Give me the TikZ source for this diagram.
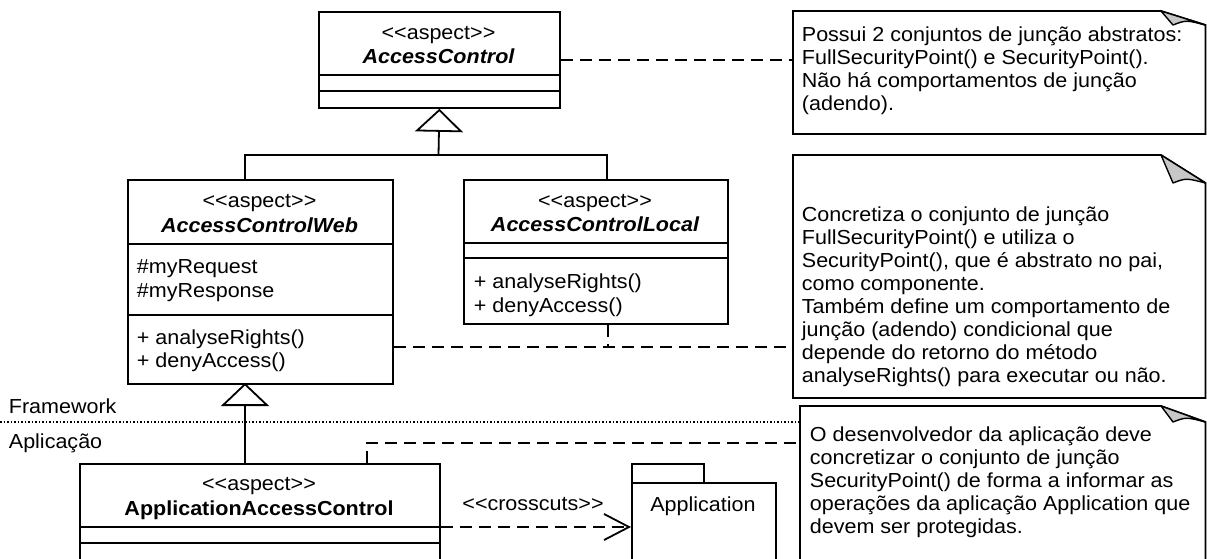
\documentclass[tikz,border=0pt]{standalone}
\usepackage{fontspec}
\setmainfont{Liberation Sans}[FakeStretch=1.06]
\usetikzlibrary{arrows.meta}

% draws a UML note outline with a folded top-right corner
% #1 left, #2 top, #3 bottom, #4 fold depth
\newcommand\umlnoteshape[4]{%
  \draw[fill=white] (#1,#2) -- (1161,#2) -- (1205.5,#2+#4) -- (1205.5,#3) -- (#1,#3) -- cycle;
  \draw[fill=black!22,line width=1.4pt,line join=round]
    (1161,#2) -- (1173,#2+#4) .. controls (1186,#2+#4-5) .. (1205.5,#2+#4) -- cycle;
}

\begin{document}
\begin{tikzpicture}[x=1pt,y=-1pt,line width=1.8pt,
  txt/.style={font=\fontsize{20.3}{23}\selectfont,inner sep=0pt},
  clsname/.style={font=\fontsize{20.3}{23}\selectfont\bfseries\itshape,inner sep=0pt},
  clsbold/.style={font=\fontsize{20.3}{23}\selectfont\bfseries,inner sep=0pt},
  cls/.style={draw,fill=white,anchor=north west,inner sep=0pt},
  dashline/.style={dash pattern=on 12pt off 7pt},
  gen/.style={-{Triangle[open,length=23pt,width=48pt]}},
  dep/.style={dashline,-{Straight Barb[length=25pt,width=26pt]}},
  notebox/.style={anchor=north west,inner sep=0pt}]
\useasboundingbox (0,0) rectangle (1207,558);
\clip (0,0) rectangle (1207,558);

% ---------- framework / application separator ----------
\coordinate (sepstart) at (0,422);
\node[txt,anchor=base west] (fw) at (8,413) {Framework};
\node[txt,anchor=base west] (apl) at (8,448) {Aplicação};

% ---------- aspect classes ----------
\node[cls,minimum width=241pt,minimum height=96pt] (ac) at (318,11) {};
\draw (ac.west |- 0,75) -- (ac.east |- 0,75);
\draw (ac.west |- 0,91) -- (ac.east |- 0,91);
\node[txt,anchor=base] (ac-st) at (438.5,39) {{<}{<}aspect{>}{>}};
\node[clsname,anchor=base] (ac-nm) at (438.5,63) {AccessControl};

\node[cls,minimum width=265pt,minimum height=204pt] (acw) at (127,179) {};
\draw (acw.west |- 0,244) -- (acw.east |- 0,244);
\draw (acw.west |- 0,315) -- (acw.east |- 0,315);
\node[txt,anchor=base] (acw-st) at (259.5,207) {{<}{<}aspect{>}{>}};
\node[clsname,anchor=base] (acw-nm) at (259.5,232) {AccessControlWeb};
\node[txt,anchor=base west] (acw-a1) at (136,273) {\#myRequest};
\node[txt,anchor=base west] (acw-a2) at (136,297) {\#myResponse};
\node[txt,anchor=base west] (acw-m1) at (136,344) {+ analyseRights()};
\node[txt,anchor=base west] (acw-m2) at (136,367) {+ denyAccess()};

\node[cls,minimum width=264pt,minimum height=144pt] (acl) at (463,179) {};
\draw (acl.west |- 0,243) -- (acl.east |- 0,243);
\draw (acl.west |- 0,258) -- (acl.east |- 0,258);
\node[txt,anchor=base] (acl-st) at (595,207) {{<}{<}aspect{>}{>}};
\node[clsname,anchor=base] (acl-nm) at (595,231) {AccessControlLocal};
\node[txt,anchor=base west] (acl-m1) at (473,288) {+ analyseRights()};
\node[txt,anchor=base west] (acl-m2) at (473,312) {+ denyAccess()};

\node[cls,minimum width=360pt,minimum height=150pt] (aac) at (79,463) {};
\draw (aac.west |- 0,527) -- (aac.east |- 0,527);
\draw (aac.west |- 0,543) -- (aac.east |- 0,543);
\node[txt,anchor=base] (aac-st) at (259,490) {{<}{<}aspect{>}{>}};
\node[clsbold,anchor=base] (aac-nm) at (259,515) {ApplicationAccessControl};

% ---------- package ----------
\node[draw,anchor=north west,inner sep=0pt,minimum width=72pt,minimum height=19pt] (tab) at (631,463) {};
\node[draw,fill=white,anchor=north west,inner sep=0pt,minimum width=144pt,minimum height=130pt] (app) at (631,482) {};
\node[txt,anchor=base] (app-nm) at (703,511) {Application};

% ---------- notes ----------
\umlnoteshape{793}{11}{134}{14}
\node[notebox,minimum width=412pt,minimum height=123pt] (n1) at (793,11) {};
\node[txt,anchor=north west,align=left] (n1-t) at (801,24)
  {\strut Possui 2 conjuntos de junção abstratos:\\
   FullSecurityPoint() e SecurityPoint().\\
   Não há comportamentos de junção\\
   (adendo).};

\umlnoteshape{793}{155}{398}{28}
\node[notebox,minimum width=412pt,minimum height=243pt] (n2) at (793,155) {};
\node[txt,anchor=north west,align=left] (n2-t) at (801,204)
  {\strut Concretiza o conjunto de junção\\
   FullSecurityPoint() e utiliza o\\
   SecurityPoint(), que é abstrato no pai,\\
   como componente.\\
   Também define um comportamento de\\
   junção (adendo) condicional que\\
   depende do retorno do método\\
   analyseRights() para executar ou não.};

\umlnoteshape{800}{406}{620}{16}
\node[notebox,minimum width=405pt,minimum height=214pt] (n3) at (800,406) {};
\node[txt,anchor=north west,align=left] (n3-t) at (809,424)
  {\strut O desenvolvedor da aplicação deve\\
   concretizar o conjunto de junção\\
   SecurityPoint() de forma a informar as\\
   operações da aplicação Application que\\
   devem ser protegidas.};

% ---------- separator line ----------
\draw[line width=1.5pt,dash pattern=on 1.5pt off 2pt] (sepstart) -- (n3.west |- sepstart);

% ---------- generalizations ----------
\coordinate (tj) at (438.5,155);
\coordinate (acwtop) at (245,179);
\coordinate (acltop) at (607,179);
\draw (acwtop) |- (tj) -| (acltop);
\draw[gen] (tj) -- (ac.south);
\coordinate (aactop) at (245,463);
\coordinate (acwbot) at (245,383);
\draw[gen] (aactop) -- (acwbot);

% ---------- note attachments ----------
\draw[dashline] (ac.east) -- (n1.west |- ac.east);
\coordinate (jn) at (608,347);
\draw[dashline] (acw.east |- jn) -- (n2.west |- jn);
\draw[dashline] (acl.south -| jn) -- (jn);
\coordinate (aacnote) at (367,443);
\draw[dashline] (aac.north -| aacnote) |- (n3.west |- aacnote);

% ---------- crosscuts dependency ----------
\draw[dep] (aac.east |- 0,527) -- (app.west |- 0,527);
\node[txt,anchor=base] (cc) at (533,510) {{<}{<}crosscuts{>}{>}};
\end{tikzpicture}
\end{document}
